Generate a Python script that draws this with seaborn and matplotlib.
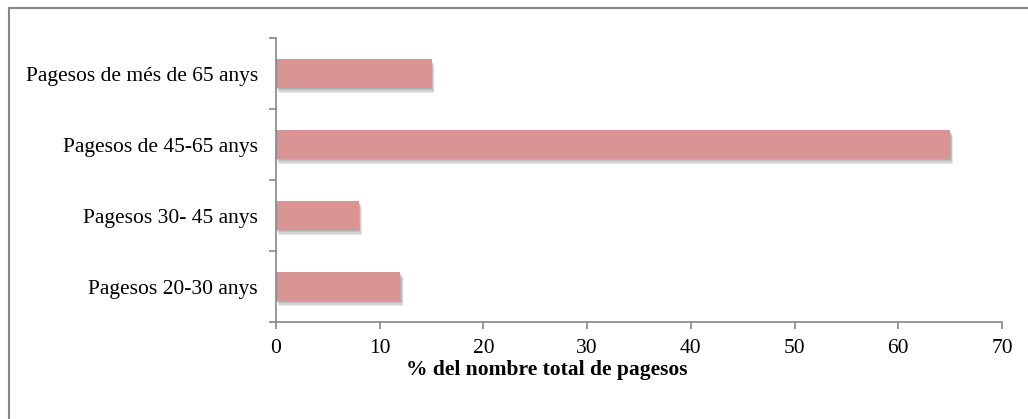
import pandas as pd
import matplotlib.pyplot as plt
import matplotlib.patheffects as pe
from matplotlib.lines import Line2D
import seaborn as sns

categories = [
    "Pagesos de més de 65 anys",
    "Pagesos de 45-65 anys",
    "Pagesos 30- 45 anys",
    "Pagesos 20-30 anys",
]
values = [15, 65, 8, 12]
x_ticks = [0, 10, 20, 30, 40, 50, 60, 70]

df = pd.DataFrame({"Grup": categories, "Percentatge": values})

sns.set_theme(style="white")
plt.rcParams["font.family"] = ["Liberation Serif", "DejaVu Serif"]
plt.rcParams["text.color"] = "black"

fig = plt.figure(figsize=(10.28, 4.19), dpi=100)
ax = fig.add_axes([0.2685, 0.2315, 0.7062, 0.6778])

sns.barplot(
    data=df, x="Percentatge", y="Grup", color="#D99594", saturation=1,
    width=0.4, linewidth=0, ax=ax,
)
# soft drop shadow built from a few faint offset copies
shadow = [
    pe.SimplePatchShadow(offset=(dx, dy), shadow_rgbFace="#404040", alpha=0.12)
    for dx, dy in [(0.5, -1), (1, -2), (1.5, -3), (2, -4)]
]
for p in ax.patches:
    p.set_path_effects(shadow + [pe.Normal()])

gray = "#868686"
ax.set_xlim(0, 70)
ax.set_ylim(3.5, -0.5)
ax.set_xticks(x_ticks)
ax.set_xticklabels([str(t) for t in x_ticks], fontsize=15.5, color="black")

# category labels on minor ticks, boundary marks on major ticks
ax.set_yticks([-0.5, 0.5, 1.5, 2.5, 3.5])
ax.set_yticklabels([])
ax.set_yticks(range(len(categories)), minor=True)
ax.set_yticklabels(categories, minor=True, fontsize=15.5, color="black")
ax.tick_params(axis="y", which="minor", left=True, length=0, pad=13)
ax.tick_params(axis="y", which="major", left=True, length=5, width=1.2, color=gray, direction="out")
ax.tick_params(axis="x", bottom=True, length=5, width=1.2, color=gray, direction="out", pad=7)

for side in ["top", "right"]:
    ax.spines[side].set_visible(False)
for side in ["left", "bottom"]:
    ax.spines[side].set_color(gray)
    ax.spines[side].set_linewidth(1.2)

ax.set_ylabel("")
ax.set_xlabel("% del nombre total de pagesos", fontsize=15.5, fontweight="bold", color="black")
ax.xaxis.set_label_coords(0.373, -0.135)

# outer frame
fig.add_artist(Line2D([9 / 1028, 9 / 1028], [0, 1 - 8 / 419], transform=fig.transFigure, color=gray, lw=1.5))
fig.add_artist(Line2D([9 / 1028, 1], [1 - 8 / 419, 1 - 8 / 419], transform=fig.transFigure, color=gray, lw=1.5))

fig.savefig("out.png", dpi=100)
